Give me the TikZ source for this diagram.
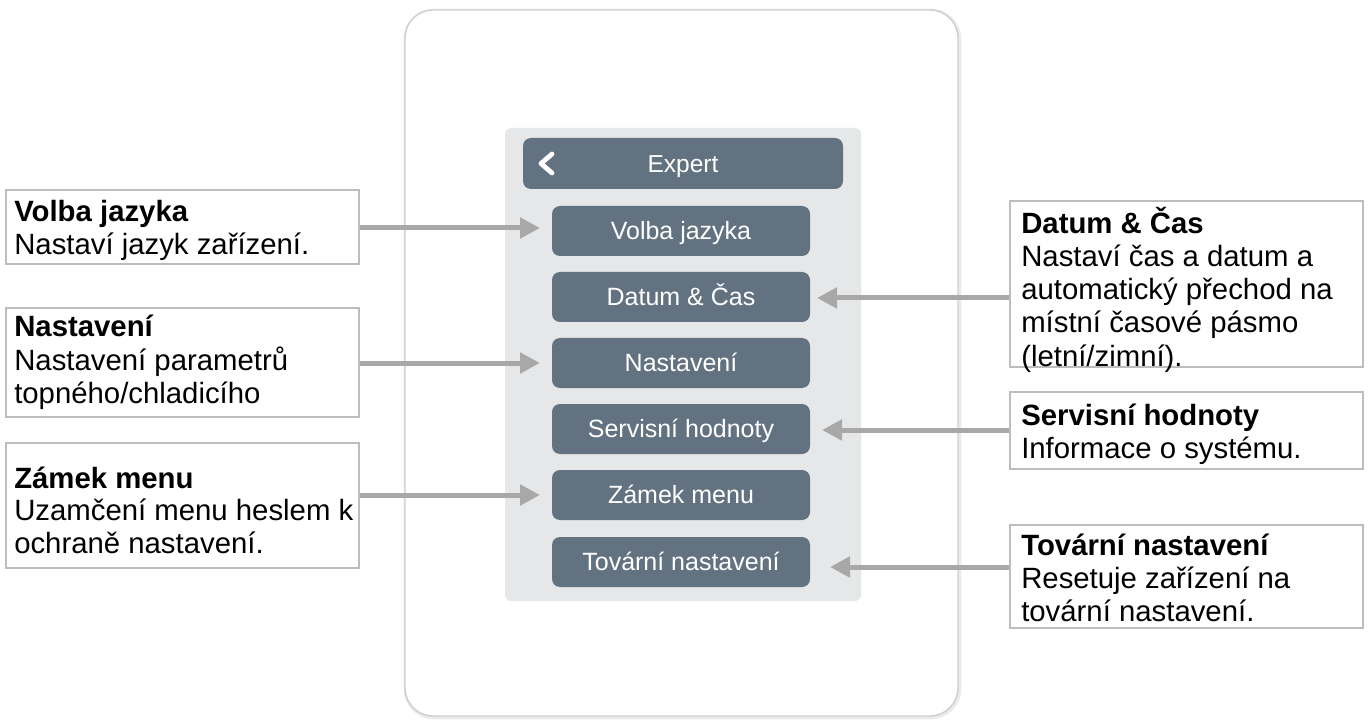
\documentclass[tikz,border=0pt]{standalone}
\usepackage{fontspec}
\setmainfont{Liberation Sans}
\usetikzlibrary{arrows.meta}
\definecolor{btn}{HTML}{627280}
\definecolor{panel}{HTML}{E6E7E9}
\definecolor{devline}{HTML}{CFCFCF}
\definecolor{devshadow}{HTML}{EBEBEB}
\definecolor{callgray}{HTML}{BDBDBD}
\definecolor{arrgray}{HTML}{A8A8A8}
\begin{document}
\begin{tikzpicture}[x=0.75pt,y=-0.75pt,
  btnbox/.style={fill=btn, rounded corners=6pt, minimum width=193.5pt, minimum height=37.5pt,
    inner sep=0pt, text=white, text height=13.4pt, text depth=0pt,
    font=\fontsize{18.75}{22}\selectfont},
  hdrbox/.style={btnbox, minimum width=240pt, minimum height=38.25pt, font=\fontsize{18.4}{22}\selectfont},
  callbox/.style={draw=callgray, line width=1.1pt, fill=white, inner sep=0pt, minimum width=264.75pt},
  ctext/.style={anchor=base west, inner sep=0pt, font=\fontsize{22}{26}\selectfont},
  ctitle/.style={anchor=base west, inner sep=0pt, font=\fontsize{22}{26}\selectfont\bfseries},
  arr/.style={draw=arrgray, line width=3.75pt, -{Triangle[length=15pt,width=15pt]}},
]
\useasboundingbox (0,0) rectangle (1371,720);
% device
\draw[devshadow, line width=3.5pt, rounded corners=21pt] (406,11) rectangle (959,717);
\draw[devline, fill=white, line width=1.1pt, rounded corners=21pt] (405,10) rectangle (958,716);
% panel
\fill[panel, rounded corners=4.5pt] (505,128) rectangle (861,601);
% header
\node[hdrbox] (hdr) at (683,163.5) {Expert};
\draw[white, line width=3.6pt, line cap=round, line join=round] (552,154) -- (541,163.5) -- (552,173);
% buttons
\node[btnbox] (b1) at (681,231) {Volba jazyka};
\node[btnbox] (b2) at (681,297) {Datum \& Čas};
\node[btnbox] (b3) at (681,363) {Nastavení};
\node[btnbox] (b4) at (681,429) {Servisní hodnoty};
\node[btnbox] (b5) at (681,495) {Zámek menu};
\node[btnbox] (b6) at (681,562) {Tovární nastavení};
% left callouts
\node[callbox, minimum height=55.5pt] (L1) at (182.5,227) {};
\node[ctitle] (L1a) at (14,222) {Volba jazyka};
\node[ctext] (L1b) at (14,255) {Nastaví jazyk zařízení.};
\node[callbox, minimum height=81.75pt] (L2) at (182.5,362.5) {};
\node[ctitle] (L2a) at (14,337) {Nastavení};
\node[ctext] (L2b) at (14,370) {Nastavení parametrů};
\node[ctext] (L2c) at (14,403) {topného/chladicího};
\node[callbox, minimum height=93.75pt] (L3) at (182.5,505.5) {};
\node[ctitle] (L3a) at (14,488) {Zámek menu};
\node[ctext] (L3b) at (14,520) {Uzamčení menu heslem k};
\node[ctext] (L3c) at (14,553) {ochraně nastavení.};
% right callouts
\node[callbox, minimum height=124.5pt] (R1) at (1186.5,284) {};
\node[ctitle] (R1a) at (1021,234) {Datum \& Čas};
\node[ctext] (R1b) at (1021,267) {Nastaví čas a datum a};
\node[ctext] (R1c) at (1021,300) {automatický přechod na};
\node[ctext] (R1d) at (1021,333) {místní časové pásmo};
\node[ctext] (R1e) at (1021,366) {(letní/zimní).};
\node[callbox, minimum height=57.75pt] (R2) at (1186.5,430.5) {};
\node[ctitle] (R2a) at (1021,425) {Servisní hodnoty};
\node[ctext] (R2b) at (1021,458) {Informace o systému.};
\node[callbox, minimum height=77.25pt] (R3) at (1186.5,576.5) {};
\node[ctitle] (R3a) at (1021,555) {Tovární nastavení};
\node[ctext] (R3b) at (1021,588) {Resetuje zařízení na};
\node[ctext] (R3c) at (1021,621) {tovární nastavení.};
% arrow tips
\coordinate (t1) at (540,228);
\coordinate (t2) at (540,363);
\coordinate (t3) at (540,495);
\coordinate (t4) at (817,298);
\coordinate (t5) at (822,430);
\coordinate (t6) at (830,567);
\draw[arr] (L1.east |- t1) -- (t1);
\draw[arr] (L2.east |- t2) -- (t2);
\draw[arr] (L3.east |- t3) -- (t3);
\draw[arr] (R1.west |- t4) -- (t4);
\draw[arr] (R2.west |- t5) -- (t5);
\draw[arr] (R3.west |- t6) -- (t6);
\end{tikzpicture}
\end{document}
